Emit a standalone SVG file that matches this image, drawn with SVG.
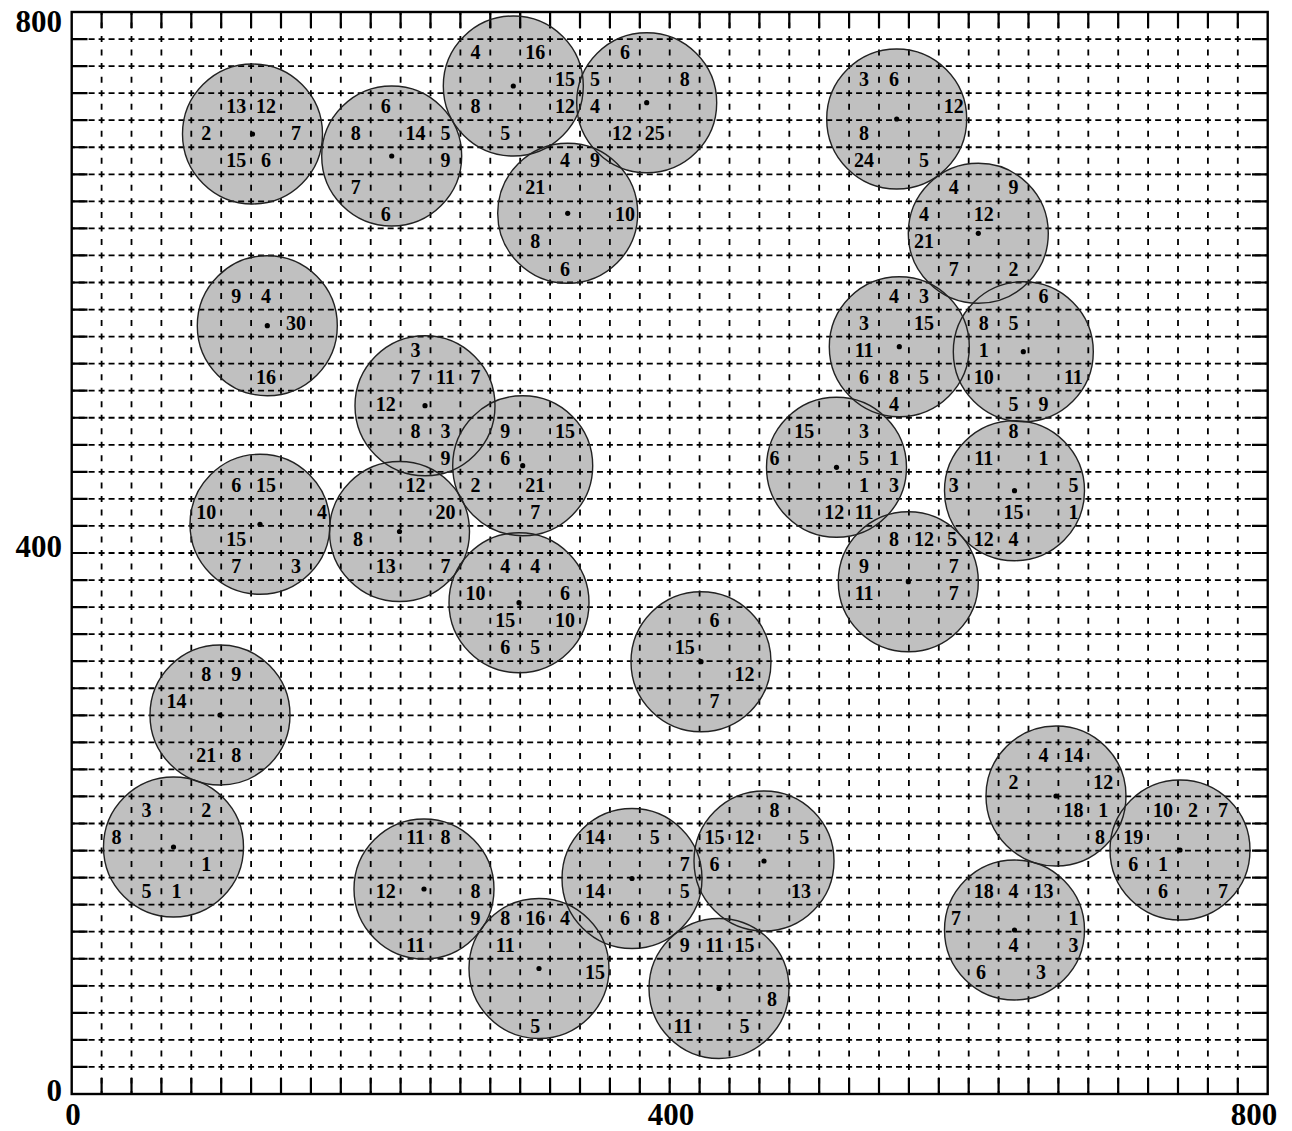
<svg xmlns="http://www.w3.org/2000/svg" width="1292" height="1131" viewBox="0 0 1292 1131">
<style>
.fill{fill:#c0c0c0;stroke:none}
.ring{fill:none;stroke:#222;stroke-width:1.4}
.dot{fill:#000}
.gh{stroke:#000;stroke-width:1.8;stroke-dasharray:6 3.967;stroke-dashoffset:3}
.gv{stroke:#000;stroke-width:1.8;stroke-dasharray:6 7.525;stroke-dashoffset:3}
.tick{stroke:#000;stroke-width:2.2;fill:none}
.frame{fill:none;stroke:#000;stroke-width:2.4}
text{font-family:"Liberation Serif","Times New Roman",serif;font-weight:bold;fill:#000}
.lb{font-size:20px;text-anchor:middle}
.ax{font-size:31px}
</style>
<rect x="0" y="0" width="1292" height="1131" fill="#fff"/>
<g id="fills">
<circle class="fill" cx="252.5" cy="134" r="70"/>
<circle class="fill" cx="391.7" cy="156" r="70"/>
<circle class="fill" cx="513.3" cy="86" r="70"/>
<circle class="fill" cx="646.7" cy="102.7" r="70"/>
<circle class="fill" cx="567.7" cy="213.3" r="70"/>
<circle class="fill" cx="896.7" cy="119" r="70"/>
<circle class="fill" cx="978.3" cy="233.3" r="70"/>
<circle class="fill" cx="267.3" cy="325.7" r="70"/>
<circle class="fill" cx="899.3" cy="346.7" r="70"/>
<circle class="fill" cx="1023.3" cy="351.7" r="70"/>
<circle class="fill" cx="425" cy="405.7" r="70"/>
<circle class="fill" cx="522.7" cy="465.7" r="70"/>
<circle class="fill" cx="836.5" cy="467.3" r="70"/>
<circle class="fill" cx="1014.5" cy="490.7" r="70"/>
<circle class="fill" cx="260" cy="524.3" r="70"/>
<circle class="fill" cx="399.5" cy="531.5" r="70"/>
<circle class="fill" cx="908.3" cy="581.7" r="70"/>
<circle class="fill" cx="519" cy="602.7" r="70"/>
<circle class="fill" cx="701" cy="661.7" r="70"/>
<circle class="fill" cx="220" cy="715" r="70"/>
<circle class="fill" cx="1056" cy="796" r="70"/>
<circle class="fill" cx="173.5" cy="847" r="70"/>
<circle class="fill" cx="1180" cy="850" r="70"/>
<circle class="fill" cx="424" cy="889" r="70"/>
<circle class="fill" cx="632" cy="878.5" r="70"/>
<circle class="fill" cx="764" cy="861" r="70"/>
<circle class="fill" cx="1014.5" cy="930" r="70"/>
<circle class="fill" cx="539" cy="968.5" r="70"/>
<circle class="fill" cx="719" cy="988.5" r="70"/>
</g>
<g id="grid">
<line class="gv" x1="101.6" y1="12" x2="101.6" y2="1094"/><line class="gv" x1="131.5" y1="12" x2="131.5" y2="1094"/><line class="gv" x1="161.4" y1="12" x2="161.4" y2="1094"/><line class="gv" x1="191.3" y1="12" x2="191.3" y2="1094"/><line class="gv" x1="221.2" y1="12" x2="221.2" y2="1094"/><line class="gv" x1="251.1" y1="12" x2="251.1" y2="1094"/><line class="gv" x1="281" y1="12" x2="281" y2="1094"/><line class="gv" x1="310.9" y1="12" x2="310.9" y2="1094"/><line class="gv" x1="340.8" y1="12" x2="340.8" y2="1094"/><line class="gv" x1="370.7" y1="12" x2="370.7" y2="1094"/><line class="gv" x1="400.6" y1="12" x2="400.6" y2="1094"/><line class="gv" x1="430.5" y1="12" x2="430.5" y2="1094"/><line class="gv" x1="460.4" y1="12" x2="460.4" y2="1094"/><line class="gv" x1="490.3" y1="12" x2="490.3" y2="1094"/><line class="gv" x1="520.2" y1="12" x2="520.2" y2="1094"/><line class="gv" x1="550.1" y1="12" x2="550.1" y2="1094"/><line class="gv" x1="580" y1="12" x2="580" y2="1094"/><line class="gv" x1="609.9" y1="12" x2="609.9" y2="1094"/><line class="gv" x1="639.8" y1="12" x2="639.8" y2="1094"/><line class="gv" x1="669.7" y1="12" x2="669.7" y2="1094"/><line class="gv" x1="699.6" y1="12" x2="699.6" y2="1094"/><line class="gv" x1="729.5" y1="12" x2="729.5" y2="1094"/><line class="gv" x1="759.4" y1="12" x2="759.4" y2="1094"/><line class="gv" x1="789.3" y1="12" x2="789.3" y2="1094"/><line class="gv" x1="819.2" y1="12" x2="819.2" y2="1094"/><line class="gv" x1="849.1" y1="12" x2="849.1" y2="1094"/><line class="gv" x1="879" y1="12" x2="879" y2="1094"/><line class="gv" x1="908.9" y1="12" x2="908.9" y2="1094"/><line class="gv" x1="938.8" y1="12" x2="938.8" y2="1094"/><line class="gv" x1="968.7" y1="12" x2="968.7" y2="1094"/><line class="gv" x1="998.6" y1="12" x2="998.6" y2="1094"/><line class="gv" x1="1028.5" y1="12" x2="1028.5" y2="1094"/><line class="gv" x1="1058.4" y1="12" x2="1058.4" y2="1094"/><line class="gv" x1="1088.3" y1="12" x2="1088.3" y2="1094"/><line class="gv" x1="1118.2" y1="12" x2="1118.2" y2="1094"/><line class="gv" x1="1148.1" y1="12" x2="1148.1" y2="1094"/><line class="gv" x1="1178" y1="12" x2="1178" y2="1094"/><line class="gv" x1="1207.9" y1="12" x2="1207.9" y2="1094"/><line class="gv" x1="1237.8" y1="12" x2="1237.8" y2="1094"/>
<line class="gh" x1="71.7" y1="39.05" x2="1267.7" y2="39.05"/><line class="gh" x1="71.7" y1="66.1" x2="1267.7" y2="66.1"/><line class="gh" x1="71.7" y1="93.15" x2="1267.7" y2="93.15"/><line class="gh" x1="71.7" y1="120.2" x2="1267.7" y2="120.2"/><line class="gh" x1="71.7" y1="147.25" x2="1267.7" y2="147.25"/><line class="gh" x1="71.7" y1="174.3" x2="1267.7" y2="174.3"/><line class="gh" x1="71.7" y1="201.35" x2="1267.7" y2="201.35"/><line class="gh" x1="71.7" y1="228.4" x2="1267.7" y2="228.4"/><line class="gh" x1="71.7" y1="255.45" x2="1267.7" y2="255.45"/><line class="gh" x1="71.7" y1="282.5" x2="1267.7" y2="282.5"/><line class="gh" x1="71.7" y1="309.55" x2="1267.7" y2="309.55"/><line class="gh" x1="71.7" y1="336.6" x2="1267.7" y2="336.6"/><line class="gh" x1="71.7" y1="363.65" x2="1267.7" y2="363.65"/><line class="gh" x1="71.7" y1="390.7" x2="1267.7" y2="390.7"/><line class="gh" x1="71.7" y1="417.75" x2="1267.7" y2="417.75"/><line class="gh" x1="71.7" y1="444.8" x2="1267.7" y2="444.8"/><line class="gh" x1="71.7" y1="471.85" x2="1267.7" y2="471.85"/><line class="gh" x1="71.7" y1="498.9" x2="1267.7" y2="498.9"/><line class="gh" x1="71.7" y1="525.95" x2="1267.7" y2="525.95"/><line class="gh" x1="71.7" y1="553" x2="1267.7" y2="553"/><line class="gh" x1="71.7" y1="580.05" x2="1267.7" y2="580.05"/><line class="gh" x1="71.7" y1="607.1" x2="1267.7" y2="607.1"/><line class="gh" x1="71.7" y1="634.15" x2="1267.7" y2="634.15"/><line class="gh" x1="71.7" y1="661.2" x2="1267.7" y2="661.2"/><line class="gh" x1="71.7" y1="688.25" x2="1267.7" y2="688.25"/><line class="gh" x1="71.7" y1="715.3" x2="1267.7" y2="715.3"/><line class="gh" x1="71.7" y1="742.35" x2="1267.7" y2="742.35"/><line class="gh" x1="71.7" y1="769.4" x2="1267.7" y2="769.4"/><line class="gh" x1="71.7" y1="796.45" x2="1267.7" y2="796.45"/><line class="gh" x1="71.7" y1="823.5" x2="1267.7" y2="823.5"/><line class="gh" x1="71.7" y1="850.55" x2="1267.7" y2="850.55"/><line class="gh" x1="71.7" y1="877.6" x2="1267.7" y2="877.6"/><line class="gh" x1="71.7" y1="904.65" x2="1267.7" y2="904.65"/><line class="gh" x1="71.7" y1="931.7" x2="1267.7" y2="931.7"/><line class="gh" x1="71.7" y1="958.75" x2="1267.7" y2="958.75"/><line class="gh" x1="71.7" y1="985.8" x2="1267.7" y2="985.8"/><line class="gh" x1="71.7" y1="1012.85" x2="1267.7" y2="1012.85"/><line class="gh" x1="71.7" y1="1039.9" x2="1267.7" y2="1039.9"/><line class="gh" x1="71.7" y1="1066.95" x2="1267.7" y2="1066.95"/>
<path class="tick" d="M101.6 12V28M131.5 12V28M161.4 12V28M191.3 12V28M221.2 12V28M251.1 12V28M281 12V28M310.9 12V28M340.8 12V28M370.7 12V28M400.6 12V28M430.5 12V28M460.4 12V28M490.3 12V28M520.2 12V28M550.1 12V28M580 12V28M609.9 12V28M639.8 12V28M669.7 12V28M699.6 12V28M729.5 12V28M759.4 12V28M789.3 12V28M819.2 12V28M849.1 12V28M879 12V28M908.9 12V28M938.8 12V28M968.7 12V28M998.6 12V28M1028.5 12V28M1058.4 12V28M1088.3 12V28M1118.2 12V28M1148.1 12V28M1178 12V28M1207.9 12V28M1237.8 12V28"/>
<path class="tick" d="M101.6 1094V1078M131.5 1094V1078M161.4 1094V1078M191.3 1094V1078M221.2 1094V1078M251.1 1094V1078M281 1094V1078M310.9 1094V1078M340.8 1094V1078M370.7 1094V1078M400.6 1094V1078M430.5 1094V1078M460.4 1094V1078M490.3 1094V1078M520.2 1094V1078M550.1 1094V1078M580 1094V1078M609.9 1094V1078M639.8 1094V1078M669.7 1094V1078M699.6 1094V1078M729.5 1094V1078M759.4 1094V1078M789.3 1094V1078M819.2 1094V1078M849.1 1094V1078M879 1094V1078M908.9 1094V1078M938.8 1094V1078M968.7 1094V1078M998.6 1094V1078M1028.5 1094V1078M1058.4 1094V1078M1088.3 1094V1078M1118.2 1094V1078M1148.1 1094V1078M1178 1094V1078M1207.9 1094V1078M1237.8 1094V1078"/>
<path class="tick" d="M71.7 39.05H87.5M71.7 66.1H87.5M71.7 93.15H87.5M71.7 120.2H87.5M71.7 147.25H87.5M71.7 174.3H87.5M71.7 201.35H87.5M71.7 228.4H87.5M71.7 255.45H87.5M71.7 282.5H87.5M71.7 309.55H87.5M71.7 336.6H87.5M71.7 363.65H87.5M71.7 390.7H87.5M71.7 417.75H87.5M71.7 444.8H87.5M71.7 471.85H87.5M71.7 498.9H87.5M71.7 525.95H87.5M71.7 553H87.5M71.7 580.05H87.5M71.7 607.1H87.5M71.7 634.15H87.5M71.7 661.2H87.5M71.7 688.25H87.5M71.7 715.3H87.5M71.7 742.35H87.5M71.7 769.4H87.5M71.7 796.45H87.5M71.7 823.5H87.5M71.7 850.55H87.5M71.7 877.6H87.5M71.7 904.65H87.5M71.7 931.7H87.5M71.7 958.75H87.5M71.7 985.8H87.5M71.7 1012.85H87.5M71.7 1039.9H87.5M71.7 1066.95H87.5"/>
<path class="tick" d="M1267.7 39.05H1252M1267.7 66.1H1252M1267.7 93.15H1252M1267.7 120.2H1252M1267.7 147.25H1252M1267.7 174.3H1252M1267.7 201.35H1252M1267.7 228.4H1252M1267.7 255.45H1252M1267.7 282.5H1252M1267.7 309.55H1252M1267.7 336.6H1252M1267.7 363.65H1252M1267.7 390.7H1252M1267.7 417.75H1252M1267.7 444.8H1252M1267.7 471.85H1252M1267.7 498.9H1252M1267.7 525.95H1252M1267.7 553H1252M1267.7 580.05H1252M1267.7 607.1H1252M1267.7 634.15H1252M1267.7 661.2H1252M1267.7 688.25H1252M1267.7 715.3H1252M1267.7 742.35H1252M1267.7 769.4H1252M1267.7 796.45H1252M1267.7 823.5H1252M1267.7 850.55H1252M1267.7 877.6H1252M1267.7 904.65H1252M1267.7 931.7H1252M1267.7 958.75H1252M1267.7 985.8H1252M1267.7 1012.85H1252M1267.7 1039.9H1252M1267.7 1066.95H1252"/>
<rect class="frame" x="71.7" y="12" width="1196" height="1082"/>
</g>
<g id="axis-labels">
<text class="ax" x="62" y="32" text-anchor="end">800</text>
<text class="ax" x="62" y="557" text-anchor="end">400</text>
<text class="ax" x="62" y="1101" text-anchor="end">0</text>
<text class="ax" x="73" y="1125" text-anchor="middle">0</text>
<text class="ax" x="671" y="1125" text-anchor="middle">400</text>
<text class="ax" x="1254" y="1125" text-anchor="middle">800</text>
</g>
<g id="c1"><circle class="ring" cx="252.5" cy="134" r="70"/><circle class="dot" cx="252.5" cy="134" r="2.6"/><text class="lb" x="236.2" y="113.2">13</text><text class="lb" x="266.1" y="113.2">12</text><text class="lb" x="206.3" y="140.2">2</text><text class="lb" x="296" y="140.2">7</text><text class="lb" x="236.2" y="167.3">15</text><text class="lb" x="266.1" y="167.3">6</text></g>
<g id="c2"><circle class="ring" cx="391.7" cy="156" r="70"/><circle class="dot" cx="391.7" cy="156" r="2.6"/><text class="lb" x="385.7" y="113.2">6</text><text class="lb" x="355.8" y="140.2">8</text><text class="lb" x="415.6" y="140.2">14</text><text class="lb" x="445.5" y="140.2">5</text><text class="lb" x="445.5" y="167.3">9</text><text class="lb" x="355.8" y="194.3">7</text><text class="lb" x="385.7" y="221.4">6</text></g>
<g id="c3"><circle class="ring" cx="513.3" cy="86" r="70"/><circle class="dot" cx="513.3" cy="86" r="2.6"/><text class="lb" x="475.4" y="59.1">4</text><text class="lb" x="535.2" y="59.1">16</text><text class="lb" x="565.1" y="86.1">15</text><text class="lb" x="475.4" y="113.2">8</text><text class="lb" x="565.1" y="113.2">12</text><text class="lb" x="505.3" y="140.2">5</text></g>
<g id="c4"><circle class="ring" cx="646.7" cy="102.7" r="70"/><circle class="dot" cx="646.7" cy="102.7" r="2.6"/><text class="lb" x="624.9" y="59.1">6</text><text class="lb" x="595" y="86.1">5</text><text class="lb" x="684.7" y="86.1">8</text><text class="lb" x="595" y="113.2">4</text><text class="lb" x="622" y="140.2">12</text><text class="lb" x="654.8" y="140.2">25</text></g>
<g id="c5"><circle class="ring" cx="567.7" cy="213.3" r="70"/><circle class="dot" cx="567.7" cy="213.3" r="2.6"/><text class="lb" x="565.1" y="167.3">4</text><text class="lb" x="595" y="167.3">9</text><text class="lb" x="535.2" y="194.3">21</text><text class="lb" x="624.9" y="221.4">10</text><text class="lb" x="535.2" y="248.4">8</text><text class="lb" x="565.1" y="275.5">6</text></g>
<g id="c6"><circle class="ring" cx="896.7" cy="119" r="70"/><circle class="dot" cx="896.7" cy="119" r="2.6"/><text class="lb" x="864.1" y="86.1">3</text><text class="lb" x="894" y="86.1">6</text><text class="lb" x="953.8" y="113.2">12</text><text class="lb" x="864.1" y="140.2">8</text><text class="lb" x="864.1" y="167.3">24</text><text class="lb" x="923.9" y="167.3">5</text></g>
<g id="c7"><circle class="ring" cx="978.3" cy="233.3" r="70"/><circle class="dot" cx="978.3" cy="233.3" r="2.6"/><text class="lb" x="953.8" y="194.3">4</text><text class="lb" x="1013.6" y="194.3">9</text><text class="lb" x="923.9" y="221.4">4</text><text class="lb" x="983.7" y="221.4">12</text><text class="lb" x="923.9" y="248.4">21</text><text class="lb" x="953.8" y="275.5">7</text><text class="lb" x="1013.6" y="275.5">2</text></g>
<g id="c8"><circle class="ring" cx="267.3" cy="325.7" r="70"/><circle class="dot" cx="267.3" cy="325.7" r="2.6"/><text class="lb" x="236.2" y="302.5">9</text><text class="lb" x="266.1" y="302.5">4</text><text class="lb" x="296" y="329.6">30</text><text class="lb" x="266.1" y="383.7">16</text></g>
<g id="c9"><circle class="ring" cx="899.3" cy="346.7" r="70"/><circle class="dot" cx="899.3" cy="346.7" r="2.6"/><text class="lb" x="894" y="302.5">4</text><text class="lb" x="923.9" y="302.5">3</text><text class="lb" x="864.1" y="329.6">3</text><text class="lb" x="923.9" y="329.6">15</text><text class="lb" x="864.1" y="356.6">11</text><text class="lb" x="864.1" y="383.7">6</text><text class="lb" x="894" y="383.7">8</text><text class="lb" x="923.9" y="383.7">5</text><text class="lb" x="894" y="410.7">4</text></g>
<g id="c10"><circle class="ring" cx="1023.3" cy="351.7" r="70"/><circle class="dot" cx="1023.3" cy="351.7" r="2.6"/><text class="lb" x="1043.5" y="302.5">6</text><text class="lb" x="983.7" y="329.6">8</text><text class="lb" x="1013.6" y="329.6">5</text><text class="lb" x="983.7" y="356.6">1</text><text class="lb" x="983.7" y="383.7">10</text><text class="lb" x="1073.4" y="383.7">11</text><text class="lb" x="1013.6" y="410.7">5</text><text class="lb" x="1043.5" y="410.7">9</text></g>
<g id="c11"><circle class="ring" cx="425" cy="405.7" r="70"/><circle class="dot" cx="425" cy="405.7" r="2.6"/><text class="lb" x="415.6" y="356.6">3</text><text class="lb" x="415.6" y="383.7">7</text><text class="lb" x="445.5" y="383.7">11</text><text class="lb" x="475.4" y="383.7">7</text><text class="lb" x="385.7" y="410.7">12</text><text class="lb" x="415.6" y="437.8">8</text><text class="lb" x="445.5" y="437.8">3</text><text class="lb" x="445.5" y="464.8">9</text></g>
<g id="c12"><circle class="ring" cx="522.7" cy="465.7" r="70"/><circle class="dot" cx="522.7" cy="465.7" r="2.6"/><text class="lb" x="505.3" y="437.8">9</text><text class="lb" x="565.1" y="437.8">15</text><text class="lb" x="505.3" y="464.8">6</text><text class="lb" x="475.4" y="491.9">2</text><text class="lb" x="535.2" y="491.9">21</text><text class="lb" x="535.2" y="518.9">7</text></g>
<g id="c13"><circle class="ring" cx="836.5" cy="467.3" r="70"/><circle class="dot" cx="836.5" cy="467.3" r="2.6"/><text class="lb" x="804.3" y="437.8">15</text><text class="lb" x="864.1" y="437.8">3</text><text class="lb" x="774.4" y="464.8">6</text><text class="lb" x="864.1" y="464.8">5</text><text class="lb" x="894" y="464.8">1</text><text class="lb" x="864.1" y="491.9">1</text><text class="lb" x="894" y="491.9">3</text><text class="lb" x="834.2" y="518.9">12</text><text class="lb" x="864.1" y="518.9">11</text></g>
<g id="c14"><circle class="ring" cx="1014.5" cy="490.7" r="70"/><circle class="dot" cx="1014.5" cy="490.7" r="2.6"/><text class="lb" x="1013.6" y="437.8">8</text><text class="lb" x="983.7" y="464.8">11</text><text class="lb" x="1043.5" y="464.8">1</text><text class="lb" x="953.8" y="491.9">3</text><text class="lb" x="1073.4" y="491.9">5</text><text class="lb" x="1013.6" y="518.9">15</text><text class="lb" x="1073.4" y="518.9">1</text><text class="lb" x="983.7" y="546">12</text><text class="lb" x="1013.6" y="546">4</text></g>
<g id="c15"><circle class="ring" cx="260" cy="524.3" r="70"/><circle class="dot" cx="260" cy="524.3" r="2.6"/><text class="lb" x="236.2" y="491.9">6</text><text class="lb" x="266.1" y="491.9">15</text><text class="lb" x="206.3" y="518.9">10</text><text class="lb" x="322" y="518.9">4</text><text class="lb" x="236.2" y="546">15</text><text class="lb" x="236.2" y="573">7</text><text class="lb" x="296" y="573">3</text></g>
<g id="c16"><circle class="ring" cx="399.5" cy="531.5" r="70"/><circle class="dot" cx="399.5" cy="531.5" r="2.6"/><text class="lb" x="415.6" y="491.9">12</text><text class="lb" x="445.5" y="518.9">20</text><text class="lb" x="358" y="546">8</text><text class="lb" x="385.7" y="573">13</text><text class="lb" x="445.5" y="573">7</text></g>
<g id="c17"><circle class="ring" cx="908.3" cy="581.7" r="70"/><circle class="dot" cx="908.3" cy="581.7" r="2.6"/><text class="lb" x="894" y="546">8</text><text class="lb" x="923.9" y="546">12</text><text class="lb" x="952" y="546">5</text><text class="lb" x="864.1" y="573">9</text><text class="lb" x="953.8" y="573">7</text><text class="lb" x="864.1" y="600.1">11</text><text class="lb" x="953.8" y="600.1">7</text></g>
<g id="c18"><circle class="ring" cx="519" cy="602.7" r="70"/><circle class="dot" cx="519" cy="602.7" r="2.6"/><text class="lb" x="505.3" y="573">4</text><text class="lb" x="535.2" y="573">4</text><text class="lb" x="475.4" y="600.1">10</text><text class="lb" x="565.1" y="600.1">6</text><text class="lb" x="505.3" y="627.1">15</text><text class="lb" x="565.1" y="627.1">10</text><text class="lb" x="505.3" y="654.2">6</text><text class="lb" x="535.2" y="654.2">5</text></g>
<g id="c19"><circle class="ring" cx="701" cy="661.7" r="70"/><circle class="dot" cx="701" cy="661.7" r="2.6"/><text class="lb" x="714.6" y="627.1">6</text><text class="lb" x="684.7" y="654.2">15</text><text class="lb" x="744.5" y="681.2">12</text><text class="lb" x="714.6" y="708.3">7</text></g>
<g id="c20"><circle class="ring" cx="220" cy="715" r="70"/><circle class="dot" cx="220" cy="715" r="2.6"/><text class="lb" x="206.3" y="681.2">8</text><text class="lb" x="236.2" y="681.2">9</text><text class="lb" x="176.4" y="708.3">14</text><text class="lb" x="206.3" y="762.4">21</text><text class="lb" x="236.2" y="762.4">8</text></g>
<g id="c21"><circle class="ring" cx="1056" cy="796" r="70"/><circle class="dot" cx="1056" cy="796" r="2.6"/><text class="lb" x="1043.5" y="762.4">4</text><text class="lb" x="1073.4" y="762.4">14</text><text class="lb" x="1013.6" y="789.4">2</text><text class="lb" x="1103.3" y="789.4">12</text><text class="lb" x="1073.4" y="816.5">18</text><text class="lb" x="1103.3" y="816.5">1</text><text class="lb" x="1100" y="843.5">8</text></g>
<g id="c22"><circle class="ring" cx="173.5" cy="847" r="70"/><circle class="dot" cx="173.5" cy="847" r="2.6"/><text class="lb" x="146.5" y="816.5">3</text><text class="lb" x="206.3" y="816.5">2</text><text class="lb" x="116.6" y="843.5">8</text><text class="lb" x="206.3" y="870.6">1</text><text class="lb" x="146.5" y="897.6">5</text><text class="lb" x="176.4" y="897.6">1</text></g>
<g id="c23"><circle class="ring" cx="1180" cy="850" r="70"/><circle class="dot" cx="1180" cy="850" r="2.6"/><text class="lb" x="1163.1" y="816.5">10</text><text class="lb" x="1193" y="816.5">2</text><text class="lb" x="1222.9" y="816.5">7</text><text class="lb" x="1133.2" y="843.5">19</text><text class="lb" x="1133.2" y="870.6">6</text><text class="lb" x="1163.1" y="870.6">1</text><text class="lb" x="1163.1" y="897.6">6</text><text class="lb" x="1222.9" y="897.6">7</text></g>
<g id="c24"><circle class="ring" cx="424" cy="889" r="70"/><circle class="dot" cx="424" cy="889" r="2.6"/><text class="lb" x="415.6" y="843.5">11</text><text class="lb" x="445.5" y="843.5">8</text><text class="lb" x="385.7" y="897.6">12</text><text class="lb" x="475.4" y="897.6">8</text><text class="lb" x="475.4" y="924.7">9</text><text class="lb" x="415.6" y="951.7">11</text></g>
<g id="c25"><circle class="ring" cx="632" cy="878.5" r="70"/><circle class="dot" cx="632" cy="878.5" r="2.6"/><text class="lb" x="595" y="843.5">14</text><text class="lb" x="654.8" y="843.5">5</text><text class="lb" x="684.7" y="870.6">7</text><text class="lb" x="595" y="897.6">14</text><text class="lb" x="684.7" y="897.6">5</text><text class="lb" x="624.9" y="924.7">6</text><text class="lb" x="654.8" y="924.7">8</text></g>
<g id="c26"><circle class="ring" cx="764" cy="861" r="70"/><circle class="dot" cx="764" cy="861" r="2.6"/><text class="lb" x="774.4" y="816.5">8</text><text class="lb" x="714.6" y="843.5">15</text><text class="lb" x="744.5" y="843.5">12</text><text class="lb" x="804.3" y="843.5">5</text><text class="lb" x="714.6" y="870.6">6</text><text class="lb" x="801" y="897.6">13</text></g>
<g id="c27"><circle class="ring" cx="1014.5" cy="930" r="70"/><circle class="dot" cx="1014.5" cy="930" r="2.6"/><text class="lb" x="983.7" y="897.6">18</text><text class="lb" x="1013.6" y="897.6">4</text><text class="lb" x="1043.5" y="897.6">13</text><text class="lb" x="956" y="924.7">7</text><text class="lb" x="1073.4" y="924.7">1</text><text class="lb" x="1013.6" y="951.7">4</text><text class="lb" x="1073.4" y="951.7">3</text><text class="lb" x="981" y="978.8">6</text><text class="lb" x="1041" y="978.8">3</text></g>
<g id="c28"><circle class="ring" cx="539" cy="968.5" r="70"/><circle class="dot" cx="539" cy="968.5" r="2.6"/><text class="lb" x="505.3" y="924.7">8</text><text class="lb" x="535.2" y="924.7">16</text><text class="lb" x="565.1" y="924.7">4</text><text class="lb" x="505.3" y="951.7">11</text><text class="lb" x="595" y="978.8">15</text><text class="lb" x="535.2" y="1032.9">5</text></g>
<g id="c29"><circle class="ring" cx="719" cy="988.5" r="70"/><circle class="dot" cx="719" cy="988.5" r="2.6"/><text class="lb" x="684.7" y="951.7">9</text><text class="lb" x="714.6" y="951.7">11</text><text class="lb" x="744.5" y="951.7">15</text><text class="lb" x="772" y="1005.8">8</text><text class="lb" x="683" y="1032.9">11</text><text class="lb" x="744.5" y="1032.9">5</text></g>
</svg>
